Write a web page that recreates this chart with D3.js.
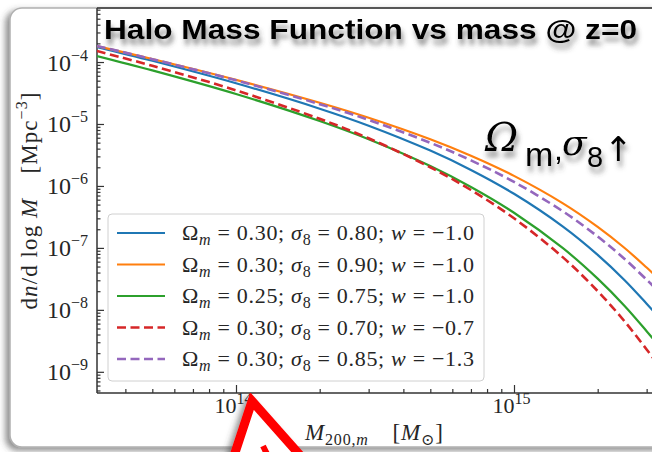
<!DOCTYPE html>
<html><head><meta charset="utf-8">
<script src="https://cdn.jsdelivr.net/npm/d3@7"></script>
<style>body{margin:0;background:#fff;} svg{display:block;}</style>
</head><body>
<svg id="c" width="652" height="452"></svg>
<script>
// ---------------- data ----------------
const masses = [3.16e13, 5e13, 1e14, 2e14, 3e14, 5e14, 7e14, 1e15, 1.5e15, 2e15, 2.5e15, 3e15, 3.17e15];
const hmfBlue   = [1.748e-4, 1.047e-4, 4.543e-5, 1.766e-5, 9.386e-6, 3.718e-6, 1.813e-6, 7.470e-7, 2.207e-7, 7.731e-8, 3.014e-8, 1.260e-8, 9.587e-9];
const hmfOrange = [1.814e-4, 1.117e-4, 5.157e-5, 2.200e-5, 1.260e-5, 5.662e-6, 3.071e-6, 1.454e-6, 5.238e-7, 2.183e-7, 9.959e-8, 4.816e-8, 3.834e-8];
const hmfGreen  = [1.251e-4, 7.334e-5, 3.050e-5, 1.117e-5, 5.674e-6, 2.094e-6, 9.632e-7, 3.696e-7, 9.890e-8, 3.188e-8, 1.156e-8, 4.529e-9, 3.377e-9];
const hmfRed    = [1.507e-4, 8.697e-5, 3.494e-5, 1.211e-5, 5.876e-6, 2.002e-6, 8.598e-7, 3.006e-7, 7.026e-8, 2.005e-8, 6.507e-9, 2.295e-9, 1.656e-9];
const hmfPurple = [1.814e-4, 1.112e-4, 5.060e-5, 2.090e-5, 1.164e-5, 4.975e-6, 2.587e-6, 1.161e-6, 3.885e-7, 1.526e-7, 6.628e-8, 3.068e-8, 2.414e-8];
const omegaM = ["0.30", "0.30", "0.25", "0.30", "0.30"];
const sigma8 = ["0.80", "0.90", "0.75", "0.70", "0.85"];
const wVals  = ["\u22121.0", "\u22121.0", "\u22121.0", "\u22120.7", "\u22121.3"];
const yTickExps = [-4, -5, -6, -7, -8, -9];
const xTickExps = [14, 15];
const titleText = "Halo Mass Function vs mass @ z=0";

// ---------------- layout ----------------
const L = 97, R = 653, T = 8, B = 393;
const svg = d3.select("#c");
const defs = svg.append("defs");
const f1 = defs.append("filter").attr("id","shFrame").attr("x","-10%").attr("y","-10%").attr("width","120%").attr("height","120%");
f1.append("feDropShadow").attr("dx",-4).attr("dy",3).attr("stdDeviation",3).attr("flood-color","#444").attr("flood-opacity",0.6);
const f2 = defs.append("filter").attr("id","shText").attr("x","-10%").attr("y","-30%").attr("width","120%").attr("height","180%");
f2.append("feDropShadow").attr("dx",2).attr("dy",6).attr("stdDeviation",2.5).attr("flood-color","#444").attr("flood-opacity",0.6);
defs.append("clipPath").attr("id","plotClip").append("rect").attr("x",L).attr("y",T).attr("width",R-L).attr("height",B-T);

// frame
svg.append("rect").attr("x",10).attr("y",8).attr("width",720).attr("height",439).attr("rx",12)
  .attr("fill","#fff").attr("stroke","#b0b0b0").attr("stroke-width",1.5).attr("filter","url(#shFrame)");

const x = d3.scaleLog().domain([Math.pow(10,13.5), Math.pow(10,15.5)]).range([L, R]);
const y = d3.scaleLog().domain([Math.pow(10,-9.342), Math.pow(10,-3.128)]).range([B, T]);

const axisCol = "#333";
const yMinor = [], xMinor = [];
for (let e = -10; e <= -4; e++) for (let k = 2; k <= 9; k++) { const v = k*Math.pow(10,e); if (v > y.domain()[0] && v < y.domain()[1]) yMinor.push(v); }
for (let e = 13; e <= 15; e++) for (let k = 2; k <= 9; k++) { const v = k*Math.pow(10,e); if (v > x.domain()[0] && v < x.domain()[1]) xMinor.push(v); }

function styleAxis(g){ g.select(".domain").remove(); g.selectAll("line").attr("stroke",axisCol).attr("stroke-width",1.2); }
svg.append("g").attr("transform",`translate(${L},0)`).call(d3.axisLeft(y).tickValues(yMinor).tickSizeInner(-3.5).tickSizeOuter(0).tickFormat("")).call(styleAxis);
svg.append("g").attr("transform",`translate(0,${B})`).call(d3.axisBottom(x).tickValues(xMinor).tickSizeInner(-4).tickSizeOuter(0).tickFormat("")).call(styleAxis);
const yMaj = svg.append("g").attr("transform",`translate(${L},0)`).call(d3.axisLeft(y).tickValues(yTickExps.map(e=>Math.pow(10,e))).tickSizeInner(-7).tickSizeOuter(0).tickFormat("")).call(styleAxis);
const xMaj = svg.append("g").attr("transform",`translate(0,${B})`).call(d3.axisBottom(x).tickValues(xTickExps.map(e=>Math.pow(10,e))).tickSizeInner(-8).tickSizeOuter(0).tickFormat("")).call(styleAxis);

const serif = "'Liberation Serif', 'DejaVu Serif', serif";
const sans = "'Liberation Sans', Arial, sans-serif";
const textCol = "#262626";

yMaj.selectAll(".tick").each(function(d){
  const e = Math.round(Math.log10(d));
  const t = d3.select(this).append("text").attr("x",-9).attr("y",8).attr("text-anchor","end")
    .attr("fill",textCol).attr("font-family",serif).attr("font-size",24);
  t.append("tspan").text("10");
  t.append("tspan").attr("dy",-10).attr("font-size",16).text("\u2212"+Math.abs(e));
});
xMaj.selectAll(".tick").each(function(d){
  const e = Math.round(Math.log10(d));
  const t = d3.select(this).append("text").attr("x",-3).attr("y",20).attr("text-anchor","middle")
    .attr("fill",textCol).attr("font-family",serif).attr("font-size",22);
  t.append("tspan").text("10");
  t.append("tspan").attr("dy",-9).attr("font-size",16).text(e);
});

// spines
svg.append("line").attr("x1",L).attr("x2",L).attr("y1",T).attr("y2",B).attr("stroke",axisCol).attr("stroke-width",1.5);
svg.append("line").attr("x1",L).attr("x2",R).attr("y1",B).attr("y2",B).attr("stroke",axisCol).attr("stroke-width",1.5);
svg.append("line").attr("x1",L).attr("x2",R).attr("y1",T).attr("y2",T).attr("stroke",axisCol).attr("stroke-width",1.5);

// curves
const series = [
  {vals: hmfBlue,   color:"#1f77b4", dash:null},
  {vals: hmfOrange, color:"#ff7f0e", dash:null},
  {vals: hmfGreen,  color:"#2ca02c", dash:null},
  {vals: hmfRed,    color:"#d62728", dash:"9,4.5"},
  {vals: hmfPurple, color:"#9467bd", dash:"9,4.5"}
];
const line = d3.line().x((d,i)=>x(masses[i])).y(d=>y(d)).curve(d3.curveCatmullRom.alpha(0.5));
const cg = svg.append("g").attr("clip-path","url(#plotClip)");
series.forEach(s=>{
  cg.append("path").attr("d",line(s.vals)).attr("fill","none").attr("stroke",s.color)
    .attr("stroke-width",s.dash?2.6:2.2).attr("stroke-dasharray",s.dash);
});

// legend
const lg = svg.append("g");
lg.append("rect").attr("x",108).attr("y",214).attr("width",376).attr("height",167).attr("rx",4)
  .attr("fill","#fff").attr("fill-opacity",0.85).attr("stroke","#d0d0d0").attr("stroke-width",1);
const rowY = [233, 264.5, 296, 327.5, 359];
series.forEach((s,i)=>{
  lg.append("line").attr("x1",117).attr("x2",165).attr("y1",rowY[i]).attr("y2",rowY[i])
    .attr("stroke",s.color).attr("stroke-width",s.dash?2.6:2.2).attr("stroke-dasharray",s.dash);
  const t = lg.append("text").attr("x",182).attr("y",rowY[i]+7).attr("fill",textCol)
    .attr("font-family",serif).attr("font-size",22).attr("textLength",292).attr("lengthAdjust","spacing");
  t.append("tspan").text("\u03A9");
  t.append("tspan").attr("font-style","italic").attr("font-size",16).attr("dy",5).text("m");
  t.append("tspan").attr("dy",-5).text(" = " + omegaM[i] + "; ");
  t.append("tspan").attr("font-style","italic").text("\u03C3");
  t.append("tspan").attr("font-size",16).attr("dy",5).text("8");
  t.append("tspan").attr("dy",-5).text(" = " + sigma8[i] + "; ");
  t.append("tspan").attr("font-style","italic").text("w");
  t.append("tspan").text(" = " + wVals[i]);
});

// y label
const yl = svg.append("text").attr("transform","translate(37,201) rotate(-90)").attr("text-anchor","middle")
  .attr("fill",textCol).attr("font-family",serif).attr("font-size",23).attr("textLength",217).attr("lengthAdjust","spacing");
yl.append("tspan").text("d");
yl.append("tspan").attr("font-style","italic").text("n");
yl.append("tspan").text("/d log ");
yl.append("tspan").attr("font-style","italic").text("M");
yl.append("tspan").text("\u2003[Mpc");
yl.append("tspan").attr("dy",-10).attr("font-size",16).text("\u22123");
yl.append("tspan").attr("dy",10).text("]");

// x label
const xl = svg.append("text").attr("x",374).attr("y",440).attr("text-anchor","middle")
  .attr("fill",textCol).attr("font-family",serif).attr("font-size",23).attr("textLength",138).attr("lengthAdjust","spacing");
xl.append("tspan").attr("font-style","italic").text("M");
xl.append("tspan").attr("dy",5).attr("font-size",16).text("200,");
xl.append("tspan").attr("font-size",16).attr("font-style","italic").text("m");
xl.append("tspan").attr("dy",-5).text("\u2003[");
xl.append("tspan").attr("font-style","italic").text("M");
xl.append("tspan").attr("dy",5).attr("font-size",16).text("\u2299");
xl.append("tspan").attr("dy",-5).text("]");

// title
svg.append("text").attr("x",104).attr("y",39).attr("font-family",sans).attr("font-weight","bold")
  .attr("font-size",27).attr("fill","#000").attr("textLength",533).attr("lengthAdjust","spacingAndGlyphs")
  .attr("filter","url(#shText)").text(titleText);

// annotation
const itSerif = "'DejaVu Serif', 'Liberation Serif', serif";
const an = svg.append("g").attr("filter","url(#shText)").attr("fill","#000");
an.append("text").attr("x",485).attr("y",151).attr("font-family",itSerif).attr("font-style","italic").attr("font-size",40).text("\u03A9");
an.append("text").attr("x",525).attr("y",166).attr("font-family",sans).attr("font-size",34).text("m");
an.append("text").attr("x",554).attr("y",160).attr("font-family",sans).attr("font-size",32).text(",");
an.append("text").attr("x",562).attr("y",155).attr("font-family",itSerif).attr("font-style","italic").attr("font-size",36).text("\u03C3");
an.append("text").attr("x",587).attr("y",167).attr("font-family",sans).attr("font-size",29).text("8");
an.append("text").attr("x",604).attr("y",161).attr("font-family","'DejaVu Sans', sans-serif").attr("font-size",34).text("\u2191");

// red arrow (cropped at the bottom edge)
svg.append("path").attr("d","M252,401 L322,480 L226,480 Z").attr("fill","#fff").attr("stroke","#ff0000")
  .attr("stroke-width",9).attr("stroke-linejoin","miter").attr("filter","url(#shFrame)");
svg.append("line").attr("x1",263).attr("y1",446).attr("x2",268).attr("y2",456).attr("stroke","#ff0000").attr("stroke-width",6);
</script>
</body></html>
